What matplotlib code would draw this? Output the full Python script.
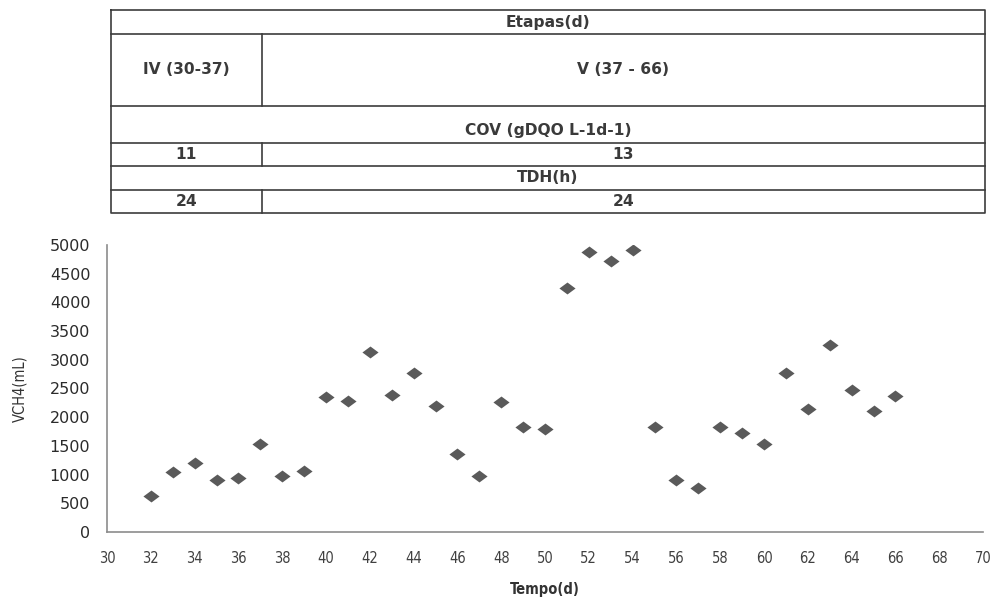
import matplotlib
matplotlib.use("Agg")
import matplotlib.pyplot as plt
from matplotlib.path import Path

# data
days = [32, 33, 34, 35, 36, 37, 38, 39, 40, 41, 42, 43, 44, 45, 46, 47, 48, 49,
        50, 51, 52, 53, 54, 55, 56, 57, 58, 59, 60, 61, 62, 63, 64, 65, 66]
vch4 = [625, 1040, 1195, 905, 935, 1540, 980, 1065, 2345, 2290, 3130, 2395, 2765,
        2190, 1355, 980, 2265, 1830, 1795, 4250, 4880, 4720, 4910, 1830, 905, 775,
        1830, 1720, 1535, 2765, 2140, 3260, 2475, 2110, 2375]
x_ticks = list(range(30, 71, 2))
y_ticks = list(range(0, 5001, 500))

# table contents
tab_header = "Etapas(d)"
tab_stages = ["IV (30-37)", "V (37 - 66)"]
tab_cov_title = "COV (gDQO L-1d-1)"
tab_cov = ["11", "13"]
tab_tdh_title = "TDH(h)"
tab_tdh = ["24", "24"]

txt = "#333333"
cond = dict(family="DejaVu Sans", stretch="condensed")

fig = plt.figure(figsize=(9.99, 5.99), dpi=100)

# ---- scatter ----
ax = fig.add_axes([107 / 999, 67 / 599, 876 / 999, 287 / 599])
diamond = Path([(-1, 0), (0, 0.74), (1, 0), (0, -0.74), (-1, 0)],
               [Path.MOVETO, Path.LINETO, Path.LINETO, Path.LINETO, Path.CLOSEPOLY])
ax.scatter(days, vch4, marker=diamond, s=135, color="#5a5a5a", linewidths=0, zorder=3)
ax.set_xlim(30, 70)
ax.set_ylim(0, 5000)
ax.set_xticks(x_ticks)
ax.set_yticks(y_ticks)
ax.tick_params(length=0)
ax.tick_params(axis="x", pad=14, labelsize=10.5, labelcolor="#404040")
ax.tick_params(axis="y", pad=12, labelsize=11.5, labelcolor="#2b2b2b")
for lab in ax.get_xticklabels():
    lab.set_fontstretch("condensed")
for s in ["top", "right"]:
    ax.spines[s].set_visible(False)
for s in ["left", "bottom"]:
    ax.spines[s].set_color("#8c8c8c")
    ax.spines[s].set_linewidth(1.2)
ax.set_xlabel("Tempo(d)", fontsize=10.5, fontweight="bold", color=txt, labelpad=11, **cond)
ax.set_ylabel("VCH4(mL)", fontsize=10.5, color=txt, labelpad=16, **cond)

# ---- table drawn in pixel coordinates ----
tb = fig.add_axes([0, 0, 1, 1])
tb.set_xlim(0, 999)
tb.set_ylim(599, 0)
tb.axis("off")
L, R, D = 111, 985, 262
rows = [10, 34, 106, 143, 166, 190, 213]
lc = "#3c3c3c"
tb.plot([L, R, R, L, L], [rows[0], rows[0], rows[-1], rows[-1], rows[0]], color=lc, lw=1.2)
for y in rows[1:-1]:
    tb.plot([L, R], [y, y], color=lc, lw=1.2)
for y0, y1 in [(rows[1], rows[2]), (rows[3], rows[4]), (rows[5], rows[6])]:
    tb.plot([D, D], [y0, y1], color=lc, lw=1.2)

kw = dict(ha="center", va="center", fontsize=11.2, color="#3a3a3a", fontweight="bold")
mid = (L + R) / 2
tb.text(mid, (rows[0] + rows[1]) / 2, tab_header, **kw)
tb.text((L + D) / 2, (rows[1] + rows[2]) / 2, tab_stages[0], **kw)
tb.text((D + R) / 2, (rows[1] + rows[2]) / 2, tab_stages[1], **kw)
tb.text(mid, rows[3] - 13, tab_cov_title, **kw)
tb.text((L + D) / 2, (rows[3] + rows[4]) / 2, tab_cov[0], **kw)
tb.text((D + R) / 2, (rows[3] + rows[4]) / 2, tab_cov[1], **kw)
tb.text(mid, (rows[4] + rows[5]) / 2, tab_tdh_title, **kw)
tb.text((L + D) / 2, (rows[5] + rows[6]) / 2, tab_tdh[0], **kw)
tb.text((D + R) / 2, (rows[5] + rows[6]) / 2, tab_tdh[1], **kw)

fig.savefig("out.png", dpi=100)
